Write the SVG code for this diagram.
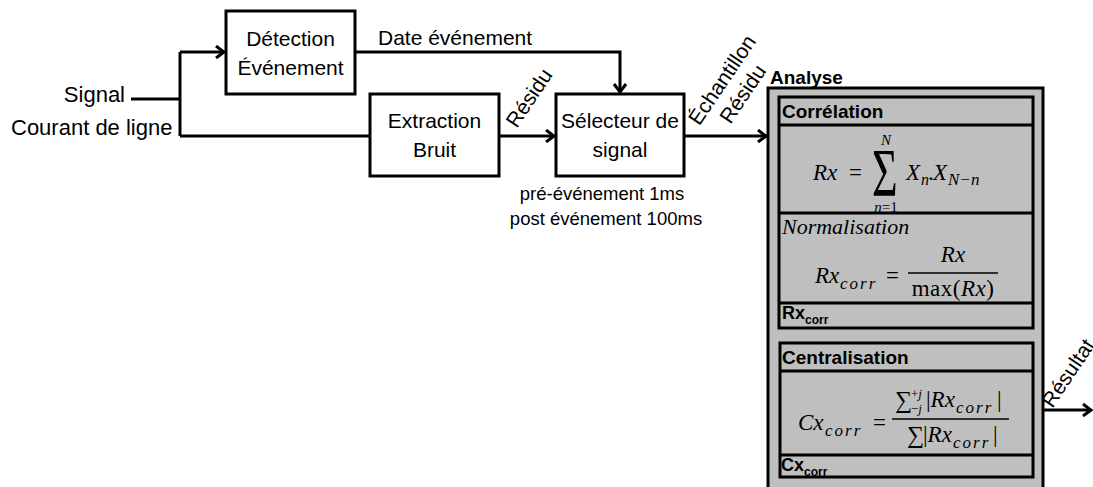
<svg xmlns="http://www.w3.org/2000/svg" width="1093" height="487" viewBox="0 0 1093 487">
<style>
.box{fill:#fff;stroke:#000;stroke-width:3}
.gbox{fill:#bfbfbf;stroke:#000;stroke-width:3}
.ln{fill:none;stroke:#000;stroke-width:3}
.t{font-family:"Liberation Sans",Arial,sans-serif;font-size:21px;fill:#000}
.tc{text-anchor:middle}
.b{font-family:"Liberation Sans",Arial,sans-serif;font-weight:bold;font-size:19px;fill:#000}
.m{font-family:"Liberation Serif","DejaVu Serif",serif;font-style:italic;font-size:23px;fill:#000}
.s{font-size:17px;letter-spacing:2px}
.u{font-style:normal}
.bar{stroke:#000;stroke-width:1.5}
</style>
<defs>
<marker id="ah" markerWidth="12" markerHeight="14" refX="10" refY="7" orient="auto" markerUnits="userSpaceOnUse">
<path d="M2,1 L10,7 L2,13" fill="none" stroke="#000" stroke-width="3"/>
</marker>
</defs>

<g id="connectors">
<path class="ln" d="M131,99 H180"/>
<path class="ln" d="M180,52 V136"/>
<path class="ln" d="M180,52 H224" marker-end="url(#ah)"/>
<path class="ln" d="M180,136 H370"/>
<path class="ln" d="M355,52 H620 V92" marker-end="url(#ah)"/>
<path class="ln" d="M499,136 H554" marker-end="url(#ah)"/>
<path class="ln" d="M684,136 H766" marker-end="url(#ah)"/>
<path class="ln" d="M1044,410 H1091" marker-end="url(#ah)"/>
</g>

<g id="labels">
<text class="t" x="125" y="102" text-anchor="end" style="font-size:22px">Signal</text>
<text class="t" x="11" y="135" style="font-size:22px">Courant de ligne</text>
<text class="t" x="378" y="45">Date événement</text>
<text class="t" transform="translate(535,102) rotate(-56)" text-anchor="middle">Résidu</text>
<g transform="translate(728,84) rotate(-56)">
<text class="t tc" x="0" y="0">Échantillon</text>
<text class="t tc" x="0" y="25">Résidu</text>
</g>
<text class="t" transform="translate(1074,377) rotate(-56)" text-anchor="middle">Résultat</text>
<text class="t tc" x="602" y="200" style="font-size:18.5px">pré-événement 1ms</text>
<text class="t tc" x="606" y="225" style="font-size:18.5px">post événement 100ms</text>
</g>

<g id="detection">
<rect class="box" x="226" y="11" width="129" height="83"/>
<text class="t tc" x="290.5" y="46">Détection</text>
<text class="t tc" x="290.5" y="75">Événement</text>
</g>

<g id="extraction">
<rect class="box" x="370" y="94" width="129" height="82"/>
<text class="t tc" x="434.5" y="128">Extraction</text>
<text class="t tc" x="434.5" y="157">Bruit</text>
</g>

<g id="selecteur">
<rect class="box" x="556" y="94" width="128" height="82"/>
<text class="t tc" x="620" y="128">Sélecteur de</text>
<text class="t tc" x="620" y="157">signal</text>
</g>

<g id="analyse">
<rect class="gbox" x="768" y="88" width="275" height="405"/>
<text class="b" x="770" y="84">Analyse</text>
</g>

<g id="correlation">
<rect class="gbox" x="779" y="97" width="254" height="231"/>
<path class="ln" d="M779,125 H1033 M779,213 H1033 M779,303 H1033"/>
<text class="b" x="782" y="118">Corrélation</text>
<text class="m" x="813" y="180">Rx</text>
<text class="m u" x="849" y="180">=</text>
<text class="m u" transform="translate(872,195) scale(1,1.55)" style="font-size:44px">Σ</text>
<text class="m tc" x="886" y="145" style="font-size:15px">N</text>
<text class="m tc" x="886" y="212" style="font-size:15px">n<tspan class="u">=1</tspan></text>
<text class="m" x="906" y="180">X</text>
<text class="m" x="921" y="185" style="font-size:16px">n</text>
<text class="m u" x="928" y="180">.</text>
<text class="m" x="933" y="180">X</text>
<text class="m" x="948" y="185" style="font-size:17px;letter-spacing:1px">N<tspan class="u">−</tspan>n</text>
<text class="m" x="782" y="234" style="font-size:22px">Normalisation</text>
<text class="m" x="815" y="283">Rx</text>
<text class="m s" x="840" y="289">corr</text>
<text class="m u" x="886" y="283">=</text>
<text class="m tc" x="953" y="262">Rx</text>
<line class="bar" x1="908" y1="273" x2="998" y2="273"/>
<text class="m tc" x="953" y="296" style="letter-spacing:0.5px"><tspan class="u">max(</tspan>Rx<tspan class="u">)</tspan></text>
<text class="b" x="782" y="319" style="font-size:18px">Rx<tspan dy="5" style="font-size:12px">corr</tspan></text>
</g>

<g id="centralisation">
<rect class="gbox" x="780" y="343" width="253" height="134"/>
<path class="ln" d="M780,371 H1033 M780,455 H1033"/>
<text class="b" x="782" y="364">Centralisation</text>
<text class="m" x="798" y="430">Cx</text>
<text class="m s" x="825" y="436">corr</text>
<text class="m u" x="873" y="430">=</text>
<line class="bar" x1="892" y1="419" x2="1009" y2="419"/>
<text class="m u" x="895" y="408" style="font-size:24px">∑</text>
<text class="m" x="911" y="398" style="font-size:13px"><tspan class="u">+</tspan>j</text>
<text class="m" x="911" y="413" style="font-size:13px"><tspan class="u">−</tspan>j</text>
<text class="m" x="926" y="407"><tspan class="u">|</tspan>Rx</text>
<text class="m s" x="956" y="413">corr</text>
<text class="m u" x="997" y="407">|</text>
<text class="m u" x="907" y="443" style="font-size:24px">∑</text>
<text class="m" x="923" y="442"><tspan class="u">|</tspan>Rx</text>
<text class="m s" x="953" y="448">corr</text>
<text class="m u" x="993" y="442">|</text>
<text class="b" x="781" y="471" style="font-size:18px">Cx<tspan dy="5" style="font-size:12px">corr</tspan></text>
</g>
</svg>
